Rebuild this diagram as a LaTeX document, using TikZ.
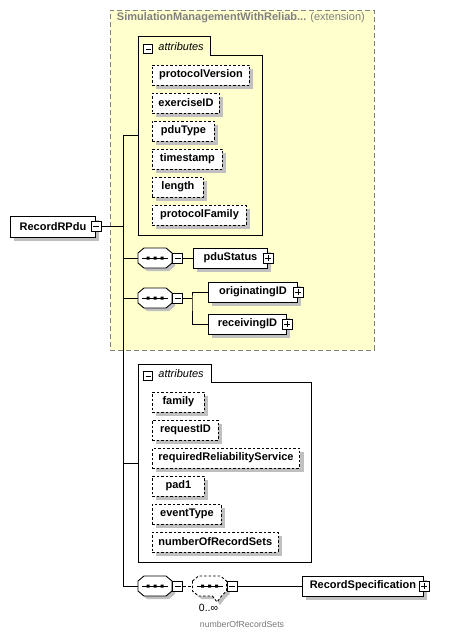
\documentclass[tikz,border=0pt]{standalone}
\usepackage{fontspec}
\setmainfont{Liberation Sans}
\usetikzlibrary{shadows}
\definecolor{extyellow}{RGB}{255,255,206}
\definecolor{extgray}{RGB}{128,128,128}
\definecolor{shadowgray}{RGB}{192,192,192}
\definecolor{labgray}{RGB}{120,120,120}
\begin{document}
\begin{tikzpicture}[x=1pt,y=-1pt,line width=0.9pt,
  shd/.style={general shadow={fill=shadowgray,shadow xshift=4pt,shadow yshift=-4pt}},
  elem/.style={shd,draw,fill=white,font=\fontsize{11}{13}\selectfont\bfseries,
    minimum height=20pt,inner xsep=6pt,inner ysep=0pt,anchor=west},
  attr/.style={elem,dash pattern=on 2.5pt off 2pt},
  pmbox/.style={draw,fill=white,minimum size=10pt,inner sep=0pt,line width=0.8pt},
  minusbox/.style={pmbox,path picture={\draw[line width=0.8pt]
    ([xshift=2pt]path picture bounding box.west) -- ([xshift=-2pt]path picture bounding box.east);}},
  plusbox/.style={pmbox,path picture={\draw[line width=0.8pt]
    ([xshift=2pt]path picture bounding box.west) -- ([xshift=-2pt]path picture bounding box.east)
    ([yshift=2pt]path picture bounding box.south) -- ([yshift=-2pt]path picture bounding box.north);}},
  seqnode/.style={minimum width=34pt,minimum height=20pt,inner sep=0pt},
  tabtext/.style={font=\fontsize{11}{13}\selectfont\itshape,anchor=west,inner sep=0pt},
  seq/.pic={
    \fill[shadowgray,shift={(3,3)}] (-17,-5) -- (-11,-10) -- (11,-10) -- (17,-5) -- (17,5) -- (11,10) -- (-11,10) -- (-17,5) -- cycle;
    \draw[fill=white] (-17,-5) -- (-11,-10) -- (11,-10) -- (17,-5) -- (17,5) -- (11,10) -- (-11,10) -- (-17,5) -- cycle;
    \draw (-13,0) -- (13,0);
    \fill (-8.5,-1.5) rectangle +(3,3) (-1.5,-1.5) rectangle +(3,3) (5.5,-1.5) rectangle +(3,3);
  },
  seqopt/.pic={
    \fill[shadowgray,shift={(3,3)}] (-17,-5) -- (-11,-10) -- (11,-10) -- (17,-5) -- (17,5) -- (12,10) -- (7.5,16) -- (3,10) -- (-11,10) -- (-17,5) -- cycle;
    \draw[fill=white,dash pattern=on 2.5pt off 2pt] (-17,-5) -- (-11,-10) -- (11,-10) -- (17,-5) -- (17,5) -- (12,10) -- (7.5,16) -- (3,10) -- (-11,10) -- (-17,5) -- cycle;
    \draw (-13,0) -- (13,0);
    \fill (-8.5,-1.5) rectangle +(3,3) (-1.5,-1.5) rectangle +(3,3) (5.5,-1.5) rectangle +(3,3);
  }
]
\useasboundingbox (0,0) rectangle (450,636);
\fill[white] (0,0) rectangle (450,636);

% extension box
\node[draw=extgray,dash pattern=on 5pt off 3pt,fill=extyellow,minimum width=264pt,
  minimum height=340pt,anchor=north west,inner sep=0pt] (ext) at (110,10) {};
\node[anchor=west,inner sep=0pt,text=extgray,font=\fontsize{11}{13}\selectfont] (title) at (116.5,18)
  {\textbf{SimulationManagementWithReliab...} (extension)};

% spine coordinate
\coordinate (sp) at (123,0);

% first attribute group
\node[minimum width=124pt,minimum height=199pt,anchor=north west,inner sep=0pt] (g1) at (138,36) {};
\draw (138,235) -- (138,36) -- (210,36) -- (210,55) -- (262,55) -- (262,235) -- cycle;
\node[minusbox,minimum size=9pt] (gm1) at (148,49) {};
\node[tabtext] (gt1) at (158,47) {attributes};
\node[attr,minimum width=97pt] (a1) at (152,75) {protocolVersion};
\node[attr,minimum width=67pt] (a2) at (152,103) {exerciseID};
\node[attr,minimum width=62pt] (a3) at (152,131) {pduType};
\node[attr,minimum width=70pt] (a4) at (152,159) {timestamp};
\node[attr,minimum width=51pt] (a5) at (152,187) {length};
\node[attr,minimum width=94pt] (a6) at (152,215) {protocolFamily};

% root element
\node[elem,minimum width=85pt,minimum height=21pt] (rec) at (10,226.5) {RecordRPdu};
\node[minusbox] (m0) at (rec.east) {};

% sequence 1
\node[seqnode] (s1) at (155,258) {};
\pic at (s1.center) {seq};
\node[minusbox] (m1) at (177.5,258) {};
\node[elem,minimum width=74pt] (pdu) at (193,258) {pduStatus};
\node[plusbox] (p1) at (pdu.east) {};

% sequence 2
\node[seqnode] (s2) at (155,298) {};
\pic at (s2.center) {seq};
\node[minusbox] (m2) at (177.5,298) {};
\coordinate (br) at (192,298);
\node[elem,minimum width=89pt] (orig) at (208,292) {originatingID};
\node[plusbox] (p2) at (orig.east) {};
\node[elem,minimum width=78pt] (recv) at (208,324) {receivingID};
\node[plusbox] (p3) at (recv.east) {};

% second attribute group
\node[minimum width=173pt,minimum height=198pt,anchor=north west,inner sep=0pt] (g2) at (138,364) {};
\draw (138,562) -- (138,364) -- (211,364) -- (211,382) -- (311,382) -- (311,562) -- cycle;
\node[minusbox,minimum size=9pt] (gm2) at (148,376) {};
\node[tabtext] (gt2) at (158,374) {attributes};
\node[attr,minimum width=52pt] (b1) at (152,402) {family};
\node[attr,minimum width=66pt] (b2) at (152,430) {requestID};
\node[attr,minimum width=147pt] (b3) at (152,458) {requiredReliabilityService};
\node[attr,minimum width=52pt] (b4) at (152,486) {pad1};
\node[attr,minimum width=69pt] (b5) at (152,514) {eventType};
\node[attr,minimum width=125pt] (b6) at (152,542) {numberOfRecordSets};

% sequence 3
\node[seqnode] (s3) at (155,586) {};
\pic at (s3.center) {seq};
\node[minusbox] (m3) at (177.5,586) {};
\node[seqnode,minimum width=35pt] (s4) at (209.5,586) {};
\pic at (s4.center) {seqopt};
\node[minusbox] (m4) at (232,586) {};
\node[elem,minimum width=121pt] (rs) at (302,586) {RecordSpecification};
\node[plusbox] (p4) at (rs.east) {};
\node[inner sep=0pt,font=\fontsize{10.5}{12}\selectfont] (occ) at (208.5,608) {0..∞};
\node[inner sep=0pt,text=labgray,font=\fontsize{8.7}{10}\selectfont] (occlab) at (242,624) {numberOfRecordSets};

% connectors
\draw (m0.east) -- (m0.east -| sp);
\draw (g1.west -| sp) -- (s3.west -| sp) -- (s3.west);
\draw (g1.west -| sp) -- (g1.west);
\draw (s1.west -| sp) -- (s1.west);
\draw (s2.west -| sp) -- (s2.west);
\draw (g2.west -| sp) -- (g2.west);
\draw (m1.east) -- (pdu.west);
\draw (m2.east) -- (br);
\draw (orig.west) -| (br) |- (recv.west);
\draw[dash pattern=on 3pt off 2pt] (m3.east) -- (s4.west);
\draw (m4.east) -- (rs.west);
\end{tikzpicture}
\end{document}
